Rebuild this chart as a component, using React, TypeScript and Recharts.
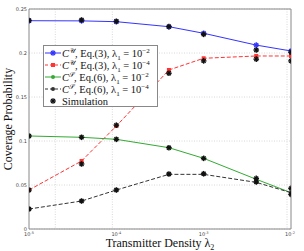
import React from "react";
import {
  ComposedChart, Line, Scatter, XAxis, YAxis, CartesianGrid, ReferenceArea,
} from "recharts";

// transmitter density lambda_2
const densities = [1e-5, 4e-5, 1e-4, 4e-4, 1e-3, 4e-3, 1e-2];

// analytical curves
const cuHigh = [0.2367, 0.2365, 0.2356, 0.2299, 0.2224, 0.209, 0.2023];
const cuLow = [0.0443, 0.0773, 0.117, 0.1807, 0.194, 0.1966, 0.1966];
const csHigh = [0.1057, 0.1042, 0.1019, 0.0924, 0.0803, 0.0565, 0.0413];
const csLow = [0.0227, 0.0318, 0.0443, 0.0621, 0.0621, 0.053, 0.0413];

// simulation points
const simCuHigh = [0.237, 0.2375, 0.236, 0.23, 0.2212, 0.2034, 0.2008];
const simCuLow = [0.0443, 0.0739, 0.118, 0.177, 0.191, 0.193, 0.191];
const simCsHigh = [0.1057, 0.1042, 0.1019, 0.0924, 0.0803, 0.0575, 0.0462];
const simCsLow = [0.0227, 0.0318, 0.0443, 0.0625, 0.0628, 0.0535, 0.0394];

const xTicks = [1e-5, 1e-4, 1e-3, 1e-2];
const xExps = ["-5", "-4", "-3", "-2"];
const yTicks = [0, 0.05, 0.1, 0.15, 0.2, 0.25];
const yLabels = ["0", "0.05", "0.1", "0.15", "0.2", "0.25"];

const toPts = (ys: number[]) => densities.map((x, i) => ({ x, y: ys[i] }));

const minorGrid: number[] = [];
xTicks.slice(0, 3).forEach((d) => {
  for (let k = 2; k <= 9; k++) minorGrid.push(k * d);
});

const serif = "'Liberation Serif', 'DejaVu Serif', serif";

function XTick(props: any) {
  const { x, y, payload } = props;
  const i = xTicks.indexOf(payload.value);
  return (
    <text x={x} y={y + 6.5} textAnchor="middle" fontSize={5} fill="#444" fontFamily="DejaVu Sans">
      10<tspan dy={-2} fontSize={3.5}>{xExps[i]}</tspan>
    </text>
  );
}

function YTick(props: any) {
  const { x, y, payload } = props;
  const i = yTicks.indexOf(payload.value);
  return (
    <text x={x - 2} y={y + 1.6} textAnchor="end" fontSize={5} fill="#444" fontFamily="DejaVu Sans">
      {yLabels[i]}
    </text>
  );
}

function Star(props: any) {
  const { cx, cy, color } = props;
  if (cx == null || cy == null) return null;
  const r = 2.8;
  const d = r * 0.7;
  return (
    <g stroke={color} strokeWidth={1.4}>
      <line x1={cx - r} y1={cy} x2={cx + r} y2={cy} />
      <line x1={cx} y1={cy - r} x2={cx} y2={cy + r} />
      <line x1={cx - d} y1={cy - d} x2={cx + d} y2={cy + d} />
      <line x1={cx - d} y1={cy + d} x2={cx + d} y2={cy - d} />
    </g>
  );
}

const dotFor = (color: string, kind: string) => (p: any) => {
  const { cx, cy, index } = p;
  if (kind === "square")
    return <rect key={index} x={cx - 2} y={cy - 2} width={4} height={4} fill={color} />;
  if (kind === "star") return <Star key={index} cx={cx} cy={cy} color={color} />;
  return <circle key={index} cx={cx} cy={cy} r={2} fill={color} />;
};

const series = [
  { ys: cuHigh, color: "#3333ff", dash: undefined, kind: "star" },
  { ys: cuLow, color: "#ff3333", dash: "4 2", kind: "square" },
  { ys: csHigh, color: "#33aa33", dash: undefined, kind: "circle" },
  { ys: csLow, color: "#333333", dash: "4 2", kind: "circle" },
];
const sims = [simCuHigh, simCuLow, simCsHigh, simCsLow];

function Sup({ children }: { children: React.ReactNode }) {
  return <sup style={{ fontSize: 7, lineHeight: 0 }}>{children}</sup>;
}
function Sub({ children }: { children: React.ReactNode }) {
  return <sub style={{ fontSize: 7, lineHeight: 0 }}>{children}</sub>;
}

const legendRows = [
  { color: "#3333ff", dash: "", kind: "star", set: "𝒰", eq: "3", exp: "−2" },
  { color: "#ff3333", dash: "3 2", kind: "square", set: "𝒰", eq: "3", exp: "−4" },
  { color: "#33aa33", dash: "", kind: "circle", set: "𝒮", eq: "6", exp: "−2" },
  { color: "#333333", dash: "3 2", kind: "circle", set: "𝒮", eq: "6", exp: "−4" },
];

function LegendBox() {
  return (
    <div
      style={{
        position: "absolute", left: 43, top: 45, width: 115, height: 62,
        border: "1px solid #888", background: "#fff", fontFamily: serif,
        fontSize: 10.5, color: "#111", boxSizing: "border-box", paddingTop: 1,
      }}
    >
      {legendRows.map((r) => (
        <div key={r.set + r.exp} style={{ display: "flex", alignItems: "center", height: 12, whiteSpace: "nowrap" }}>
          <svg width={18} height={10} style={{ flex: "none" }}>
            <line x1={1} y1={5} x2={17} y2={5} stroke={r.color} strokeWidth={1} strokeDasharray={r.dash} />
            {dotFor(r.color, r.kind)({ cx: 9, cy: 5, index: 0 })}
          </svg>
          <span>
            <i>C</i><Sup>{r.set}</Sup>, Eq.({r.eq}), λ<Sub>1</Sub> = 10<Sup>{r.exp}</Sup>
          </span>
        </div>
      ))}
      <div style={{ display: "flex", alignItems: "center", height: 12 }}>
        <svg width={18} height={10} style={{ flex: "none" }}>
          <Star cx={9} cy={5} color="#111" />
        </svg>
        <span>Simulation</span>
      </div>
    </div>
  );
}

function XLabel(props: any) {
  const { viewBox } = props;
  return (
    <text x={viewBox.x + viewBox.width / 2} y={246.5} textAnchor="middle" fontFamily={serif} fontSize={12} fill="#111">
      Transmitter Density λ<tspan dy={3} fontSize={8}>2</tspan>
    </text>
  );
}

function YLabel(props: any) {
  const { viewBox } = props;
  const cy = viewBox.y + viewBox.height / 2;
  return (
    <text x={12} y={cy} transform={`rotate(-90 12 ${cy})`} textAnchor="middle" fontFamily={serif} fontSize={12} fill="#111">
      Coverage Probability
    </text>
  );
}

export default function App() {
  return (
    <div style={{ position: "absolute", left: 0, top: 0, width: 304, height: 251, background: "#fff" }}>
      <ComposedChart width={304} height={251} margin={{ top: 9, right: 13, bottom: 0, left: 0 }}>
        <CartesianGrid
          stroke="#d8d8d8"
          strokeDasharray="1 1.5"
          verticalValues={[...xTicks, ...minorGrid]}
          horizontalValues={yTicks}
        />
        <XAxis
          type="number"
          dataKey="x"
          scale="log"
          domain={[1e-5, 1e-2]}
          ticks={xTicks}
          allowDataOverflow
          axisLine={false}
          tickLine={false}
          tickSize={0}
          tickMargin={0}
          height={22}
          tick={<XTick />}
          label={<XLabel />}
        />
        <YAxis
          type="number"
          dataKey="y"
          domain={[0, 0.25]}
          ticks={yTicks}
          axisLine={false}
          tickLine={false}
          tickSize={0}
          tickMargin={0}
          width={29}
          tick={<YTick />}
          label={<YLabel />}
        />
        <ReferenceArea x1={1e-5} x2={1e-2} y1={0} y2={0.25} fill="none" stroke="#888" strokeWidth={1} />
        {series.map((s, i) => (
          <Line
            key={i}
            data={toPts(s.ys)}
            dataKey="y"
            type="linear"
            stroke={s.color}
            strokeWidth={1}
            strokeDasharray={s.dash}
            dot={dotFor(s.color, s.kind)}
            activeDot={false}
            isAnimationActive={false}
          />
        ))}
        {sims.map((ys, i) => (
          <Scatter
            key={"s" + i}
            data={toPts(ys)}
            dataKey="y"
            shape={(p: any) => <Star cx={p.cx} cy={p.cy} color="#111" />}
            isAnimationActive={false}
          />
        ))}
      </ComposedChart>
      <LegendBox />
    </div>
  );
}
